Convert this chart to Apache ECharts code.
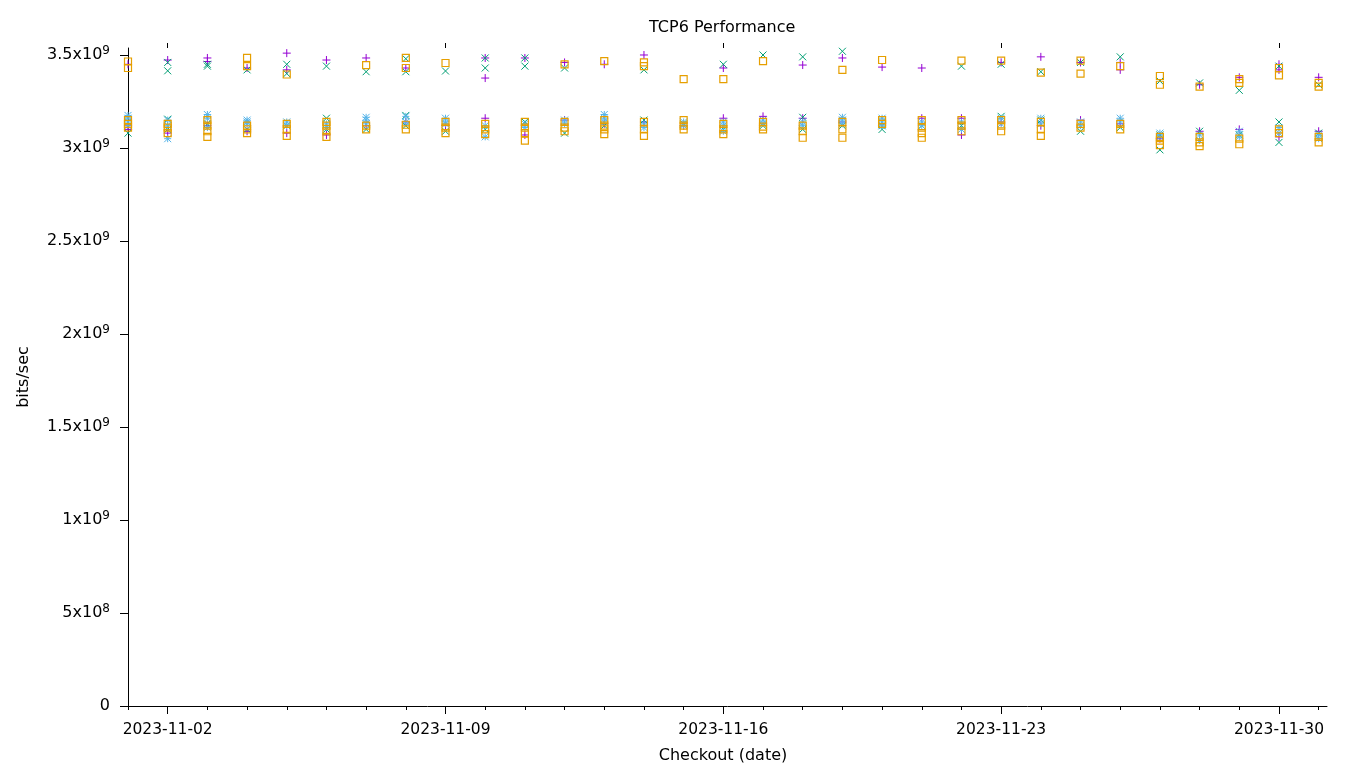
<!DOCTYPE html>
<html>
<head>
<meta charset="utf-8">
<script src="https://cdn.jsdelivr.net/npm/echarts@6/dist/echarts.min.js"></script>
<style>html,body{margin:0;padding:0;background:#fff}#c{width:1360px;height:768px}</style>
</head>
<body>
<div id="c"></div>
<script>
// Dates of each column (day index 0 = 2023-11-01)
const dates = ['2023-11-01','2023-11-02','2023-11-03','2023-11-04','2023-11-05','2023-11-06','2023-11-07','2023-11-08','2023-11-09','2023-11-10','2023-11-11','2023-11-12','2023-11-13','2023-11-14','2023-11-15','2023-11-16','2023-11-17','2023-11-18','2023-11-19','2023-11-20','2023-11-21','2023-11-22','2023-11-23','2023-11-24','2023-11-25','2023-11-26','2023-11-27','2023-11-28','2023-11-29','2023-11-30','2023-12-01'];
const xTickDays = [1, 8, 15, 22, 29];
const xTickLabels = ['2023-11-02','2023-11-09','2023-11-16','2023-11-23','2023-11-30'];
const yTickValues = [0, 0.5e9, 1e9, 1.5e9, 2e9, 2.5e9, 3e9, 3.5e9];
const yTickLabels = ['0','5x10|8','1x10|9','1.5x10|9','2x10|9','2.5x10|9','3x10|9','3.5x10|9'];

// Values in units of 1e9 bits/sec, one list per date
const plusVals = [
 [3.45,3.12,3.10],[3.473,3.08],[3.484,3.465,3.12],[3.43,3.09],[3.51,3.42,3.08],[3.473,3.07],
 [3.484,3.12],[3.43,3.14],[3.12],[3.484,3.376,3.16],[3.484,3.07],[3.46,3.15],
 [3.45,3.13],[3.50,3.14],[3.12],[3.43,3.16],[3.17],[3.446,3.16],
 [3.484,3.14],[3.435,3.13],[3.43,3.16],[3.16,3.07],[3.46,3.14],[3.49,3.12],
 [3.46,3.15],[3.46,3.42,3.13],[3.05],[3.34,3.09],[3.38,3.10],[3.45,3.42,3.06],[3.38,3.09]
];
const crossVals = [
 [3.14,3.08],[3.46,3.415,3.155,3.10],[3.45,3.44,3.13],[3.42,3.10],[3.45,3.40,3.12],[3.44,3.16,3.10],
 [3.41,3.10],[3.48,3.41,3.175,3.12],[3.414,3.09],[3.484,3.43,3.10],[3.484,3.44,3.14],[3.43,3.08],
 [3.12],[3.42,3.15],[3.13],[3.45,3.10],[3.50,3.12],[3.49,3.165,3.10],
 [3.52,3.12],[3.12,3.10],[3.12],[3.44,3.12],[3.45,3.17],[3.41,3.15],
 [3.46,3.09],[3.49,3.11],[3.36,3.07,2.99],[3.35,3.09],[3.31,3.07],[3.44,3.14,3.03],[3.34,3.08]
];
const starVals = [
 [3.175,3.16,3.14,3.12],[3.15,3.12,3.05],[3.18,3.16,3.11],[3.15,3.14,3.13],[3.14,3.12],[3.13,3.11],
 [3.165,3.15,3.13],[3.17,3.14],[3.16,3.14,3.13],[3.12,3.06],[3.13,3.11],[3.15,3.13],
 [3.18,3.16,3.14],[3.13,3.11],[3.14,3.12],[3.14,3.12,3.09],[3.15,3.13],[3.14,3.12],
 [3.165,3.15,3.13],[3.16,3.14,3.12],[3.14,3.12],[3.14,3.10],[3.16,3.13],[3.16,3.13],
 [3.14,3.12],[3.16,3.14],[3.08,3.06],[3.07,3.04],[3.09,3.06],[3.11,3.08],[3.07,3.05]
];
const squareVals = [
 [3.465,3.43,3.15,3.13,3.11],[3.13,3.11,3.08],[3.15,3.12,3.09,3.06],[3.484,3.44,3.12,3.10,3.08],[3.395,3.13,3.10,3.065],[3.14,3.12,3.09,3.06],
 [3.446,3.12,3.10],[3.484,3.43,3.125,3.10],[3.457,3.14,3.11,3.08],[3.13,3.10,3.075],[3.14,3.11,3.08,3.04],[3.45,3.14,3.11,3.09],
 [3.467,3.15,3.12,3.10,3.075],[3.46,3.44,3.14,3.10,3.065],[3.37,3.15,3.12,3.10],[3.37,3.13,3.10,3.075],[3.467,3.14,3.115,3.10],[3.12,3.09,3.055],
 [3.42,3.14,3.10,3.055],[3.473,3.15,3.13],[3.15,3.11,3.08,3.055],[3.47,3.15,3.12,3.09],[3.47,3.15,3.12,3.09],[3.405,3.14,3.10,3.065],
 [3.47,3.40,3.13,3.11],[3.44,3.13,3.10],[3.387,3.34,3.06,3.04,3.015],[3.33,3.06,3.03,3.01],[3.37,3.35,3.05,3.02],[3.43,3.39,3.10,3.08],[3.35,3.33,3.06,3.03]
];

function toPoints(vals) {
  const out = [];
  vals.forEach((list, d) => list.forEach(v => out.push([d, v * 1e9])));
  return out;
}

const FONT = 'DejaVu Sans';
const allDays = dates.map((_, i) => i);
const XMAX = 30.21, YMAX = 3.5376e9;

const chart = echarts.init(document.getElementById('c'), null, {renderer: 'canvas'});

function mkX(extra) {
  return Object.assign({
    type: 'value', min: 0, max: XMAX, gridIndex: 0,
    splitLine: {show: false},
    axisLine: {show: false},
    axisLabel: {show: false},
    axisTick: {show: false}
  }, extra);
}
function mkY(extra) {
  return Object.assign({
    type: 'value', min: 0, max: YMAX, gridIndex: 0,
    splitLine: {show: false},
    axisLine: {show: false},
    axisLabel: {show: false},
    axisTick: {show: false}
  }, extra);
}

const lineBlack = {color: '#000', width: 1};

const option = {
  animation: false,
  backgroundColor: '#fff',
  textStyle: {fontFamily: FONT},
  title: {
    text: 'TCP6 Performance', left: 644, top: 15,
    textStyle: {fontFamily: FONT, fontSize: 16, fontWeight: 'normal', color: '#000'}
  },
  grid: {left: 128, right: 33, top: 48, bottom: 62, containLabel: false, outerBoundsMode: 'none'},
  xAxis: [
    mkX({
      position: 'bottom',
      name: 'Checkout (date)', nameLocation: 'middle', nameGap: 42,
      nameTextStyle: {fontFamily: FONT, fontSize: 16, color: '#000', padding: [0, 9, 0, 0]},
      axisLine: {show: true, onZero: false, lineStyle: lineBlack},
      axisTick: {show: true, inside: false, length: 8, lineStyle: lineBlack, customValues: xTickDays},
      axisLabel: {show: true, margin: 16, fontFamily: FONT, fontSize: 15.5, color: '#000',
        customValues: xTickDays,
        formatter: v => xTickLabels[xTickDays.indexOf(Math.round(v))] || ''}
    }),
    mkX({position: 'bottom', axisTick: {show: true, inside: false, length: 4, lineStyle: lineBlack, customValues: allDays}}),
    mkX({position: 'top', axisTick: {show: true, inside: true, length: 4, lineStyle: lineBlack, customValues: allDays}}),
    mkX({position: 'top', axisTick: {show: true, inside: false, length: 5, lineStyle: lineBlack, customValues: xTickDays}})
  ],
  yAxis: [
    mkY({
      position: 'left',
      name: 'bits/sec', nameLocation: 'middle', nameGap: 96,
      nameTextStyle: {fontFamily: FONT, fontSize: 16, color: '#000'},
      axisLine: {show: true, onZero: false, lineStyle: lineBlack},
      axisTick: {show: true, inside: false, length: 7, lineStyle: lineBlack, customValues: yTickValues},
      axisLabel: {show: true, margin: 18, color: '#000', fontFamily: FONT, fontSize: 16,
        customValues: yTickValues,
        formatter: v => {
          const i = yTickValues.findIndex(t => Math.abs(t - v) < 1);
          const s = i >= 0 ? yTickLabels[i] : '';
          if (s.indexOf('|') < 0) return '{b|' + s + '}';
          const p = s.split('|');
          return '{b|' + p[0] + '}{s|' + p[1] + '}';
        },
        rich: {
          b: {fontFamily: FONT, fontSize: 16, color: '#000'},
          s: {fontFamily: FONT, fontSize: 12, color: '#000', padding: [0, 0, 9, 0]}
        }
      }
    }),
    mkY({position: 'right', axisTick: {show: true, inside: true, length: 8, lineStyle: lineBlack, customValues: yTickValues}})
  ],
  series: [
    {name: 'plus', type: 'scatter', data: toPoints(plusVals), symbol: 'path://M0,-1V1M-1,0H1', symbolSize: 8,
     itemStyle: {color: 'rgba(0,0,0,0)', borderColor: '#9400d3', borderWidth: 1, opacity: 1}, silent: true},
    {name: 'cross', type: 'scatter', data: toPoints(crossVals), symbol: 'path://M-1,-1L1,1M1,-1L-1,1', symbolSize: 7,
     itemStyle: {color: 'rgba(0,0,0,0)', borderColor: '#009e73', borderWidth: 1, opacity: 1}, silent: true},
    {name: 'star', type: 'scatter', data: toPoints(starVals), symbol: 'path://M0,-1V1M-1,0H1M-1,-1L1,1M1,-1L-1,1', symbolSize: 7,
     itemStyle: {color: 'rgba(0,0,0,0)', borderColor: '#56b4e9', borderWidth: 1, opacity: 1}, silent: true},
    {name: 'square', type: 'scatter', data: toPoints(squareVals), symbol: 'rect', symbolSize: 7,
     itemStyle: {color: 'rgba(0,0,0,0)', borderColor: '#e69f00', borderWidth: 1.2, opacity: 1}, silent: true}
  ]
};
chart.setOption(option);
</script>
</body>
</html>
